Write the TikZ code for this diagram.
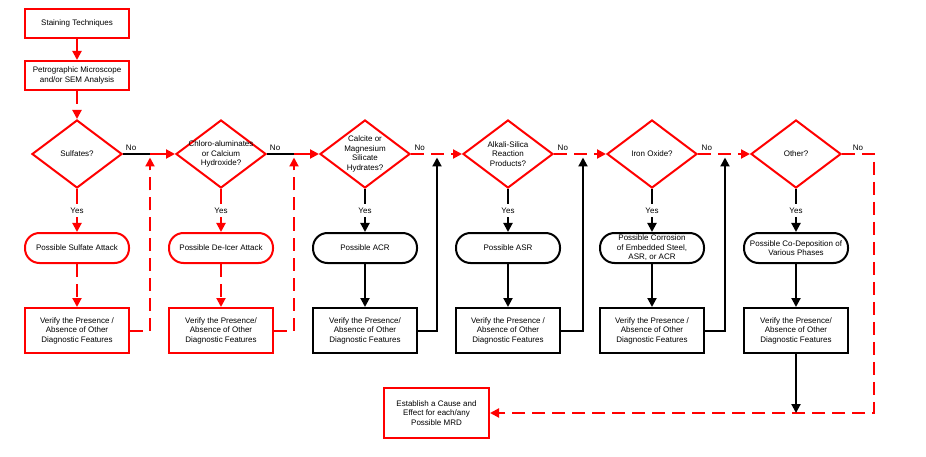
\documentclass[tikz,border=0pt]{standalone}
\usepackage{fontspec}
\setmainfont{Liberation Sans}
\usetikzlibrary{shapes.geometric,arrows.meta}
\definecolor{rd}{RGB}{255,0,0}
\begin{document}
\begin{tikzpicture}[x=1pt,y=-1pt,
  every node/.style={font=\fontsize{8}{9.5}\selectfont, text=black},
  lw/.style={line width=2pt},
  tip/.style={-{Triangle[length=9pt,width=9pt]}},
  dsh/.style={dash pattern=on 13pt off 7pt},
  rbox/.style={draw=rd, lw, minimum width=104pt, minimum height=29pt, inner sep=1pt, align=center},
  vbox/.style={draw=#1, lw, minimum width=104pt, minimum height=45pt, inner sep=1pt, align=center},
  term/.style={draw=#1, lw, rounded corners=14.5pt, minimum width=104pt, minimum height=30pt, inner sep=1pt, align=center},
  dia/.style={diamond, draw=rd, lw, minimum width=90pt, minimum height=68pt, inner sep=0pt},
  yesl/.style={fill=white, inner sep=3.5pt},
  nol/.style={above=2pt, inner sep=0pt}]
\useasboundingbox (0,0) rectangle (926,457);

% top boxes
\node[rbox] (st) at (77,23.5) {Staining Techniques};
\node[rbox] (pe) at (77,75.5) {Petrographic Microscope\\and/or SEM Analysis};

% diamonds
\node[dia, label={[align=center]center:Sulfates?}] (d1) at (77,154) {};
\node[dia, label={[align=center]center:Chloro-aluminates\\or Calcium\\Hydroxide?}] (d2) at (221,154) {};
\node[dia, label={[align=center]center:Calcite or\\Magnesium\\Silicate\\Hydrates?}] (d3) at (365,154) {};
\node[dia, label={[align=center]center:Alkali-Silica\\Reaction\\Products?}] (d4) at (508,154) {};
\node[dia, label={[align=center]center:Iron Oxide?}] (d5) at (652,154) {};
\node[dia, label={[align=center]center:Other?}] (d6) at (796,154) {};

% terminators
\node[term=rd] (t1) at (77,248) {Possible Sulfate Attack};
\node[term=rd] (t2) at (221,248) {Possible De-Icer Attack};
\node[term=black] (t3) at (365,248) {Possible ACR};
\node[term=black] (t4) at (508,248) {Possible ASR};
\node[term=black] (t5) at (652,248) {Possible Corrosion\\of Embedded Steel,\\ASR, or ACR};
\node[term=black] (t6) at (796,248) {Possible Co-Deposition of\\Various Phases};

% verify boxes
\node[vbox=rd] (v1) at (77,330.5) {Verify the Presence /\\Absence of Other\\Diagnostic Features};
\node[vbox=rd] (v2) at (221,330.5) {Verify the Presence/\\Absence of Other\\Diagnostic Features};
\node[vbox=black] (v3) at (365,330.5) {Verify the Presence/\\Absence of Other\\Diagnostic Features};
\node[vbox=black] (v4) at (508,330.5) {Verify the Presence /\\Absence of Other\\Diagnostic Features};
\node[vbox=black] (v5) at (652,330.5) {Verify the Presence /\\Absence of Other\\Diagnostic Features};
\node[vbox=black] (v6) at (796,330.5) {Verify the Presence/\\Absence of Other\\Diagnostic Features};

% final box
\node[draw=rd, lw, minimum width=105pt, minimum height=50pt, inner sep=1pt, align=center] (es) at (436.5,413) {Establish a Cause and\\Effect for each/any\\Possible MRD};

% junction coordinates
\coordinate (m1) at (150,154);
\coordinate (m2) at (294,154);
\coordinate (j1) at (150,157.5);
\coordinate (j2) at (294,157.5);
\coordinate (j3) at (437,157.5);
\coordinate (j4) at (583,157.5);
\coordinate (j5) at (725,157.5);
\coordinate (k6) at (874,154);
\coordinate (j6) at (796,413);

% top flow
\draw[rd, lw, tip] (st) -- (pe);
\draw[rd, lw, tip, dsh] (pe) -- (d1);

% yes arrows
\draw[rd, lw, tip] (d1) -- node[yesl]{Yes} (t1);
\draw[rd, lw, tip] (d2) -- node[yesl]{Yes} (t2);
\draw[black, lw, tip] (d3) -- node[yesl]{Yes} (t3);
\draw[black, lw, tip] (d4) -- node[yesl]{Yes} (t4);
\draw[black, lw, tip] (d5) -- node[yesl]{Yes} (t5);
\draw[black, lw, tip] (d6) -- node[yesl]{Yes} (t6);

% terminator to verify
\draw[rd, lw, tip, dsh] (t1) -- (v1);
\draw[rd, lw, tip, dsh] (t2) -- (v2);
\draw[black, lw, tip] (t3) -- (v3);
\draw[black, lw, tip] (t4) -- (v4);
\draw[black, lw, tip] (t5) -- (v5);
\draw[black, lw, tip] (t6) -- (v6);

% No connectors
\draw[black, lw] (d1.east) -- node[nol, pos=0.3]{No} (m1);
\draw[rd, lw, tip] (m1) -- (d2.west);
\draw[black, lw] (d2.east) -- node[nol, pos=0.3]{No} (m2);
\draw[rd, lw, tip] (m2) -- (d3.west);
\draw[rd, lw, tip, dsh] (d3.east) -- node[nol, pos=0.17]{No} (d4.west);
\draw[rd, lw, tip, dsh] (d4.east) -- node[nol, pos=0.17]{No} (d5.west);
\draw[rd, lw, tip, dsh] (d5.east) -- node[nol, pos=0.17]{No} (d6.west);
\draw[rd, lw, tip, dsh] (d6.east) -- node[nol, pos=0.5]{No} (k6) |- (es.east);

% return loops
\draw[rd, lw, tip, dsh] (v1.east) -| (j1);
\draw[rd, lw, tip, dsh] (v2.east) -| (j2);
\draw[black, lw, tip] (v3.east) -| (j3);
\draw[black, lw, tip] (v4.east) -| (j4);
\draw[black, lw, tip] (v5.east) -| (j5);
\draw[black, lw, tip] (v6.south) -- (j6);
\end{tikzpicture}
\end{document}
